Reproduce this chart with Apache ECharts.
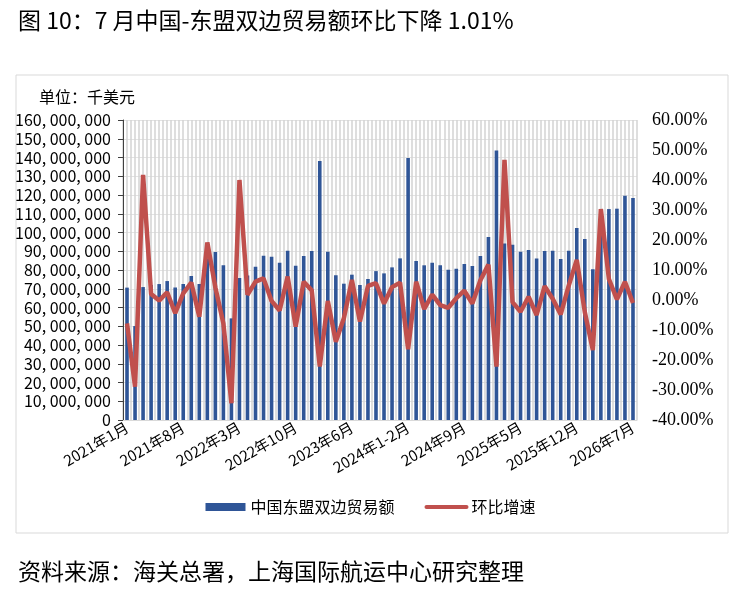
<!DOCTYPE html>
<html>
<head>
<meta charset="utf-8">
<script src="https://cdn.jsdelivr.net/npm/echarts@6/dist/echarts.min.js"></script>
<style>
html,body{margin:0;padding:0;background:#fff;}
#c{width:741px;height:589px;}
</style>
</head>
<body>
<div id="c"></div>
<script>
// categories (months; Jan-Feb combined in 2023-2025)
const categories = [
 '2021年1月','2021年2月','2021年3月','2021年4月','2021年5月','2021年6月','2021年7月','2021年8月','2021年9月','2021年10月','2021年11月','2021年12月',
 '2022年1月','2022年2月','2022年3月','2022年4月','2022年5月','2022年6月','2022年7月','2022年8月','2022年9月','2022年10月','2022年11月','2022年12月',
 '2023年1-2月','2023年3月','2023年4月','2023年5月','2023年6月','2023年7月','2023年8月','2023年9月','2023年10月','2023年11月','2023年12月',
 '2024年1-2月','2024年3月','2024年4月','2024年5月','2024年6月','2024年7月','2024年8月','2024年9月','2024年10月','2024年11月','2024年12月',
 '2025年1-2月','2025年3月','2025年4月','2025年5月','2025年6月','2025年7月','2025年8月','2025年9月','2025年10月','2025年11月','2025年12月',
 '2026年1月','2026年2月','2026年3月','2026年4月','2026年5月','2026年6月','2026年7月'
];
// 中国东盟双边贸易额 (千美元)
const tradeValue = [
 70600000,50100000,70900000,72000000,72500000,74100000,70700000,72500000,76800000,72500000,86200000,89600000,
 82500000,54200000,75700000,77100000,81800000,87600000,87100000,83900000,90300000,82300000,87500000,90100000,
 138100000,89800000,77200000,72700000,77500000,72000000,75200000,79400000,78200000,81400000,86200000,
 139700000,84800000,82500000,83900000,82500000,80200000,80700000,83200000,82100000,87500000,97600000,
 143800000,94200000,93500000,89800000,90700000,86200000,90100000,90300000,85900000,90300000,102400000,
 96500000,80400000,105000000,112500000,112700000,119600000,118400000
];
// 环比增速 (%)
const momGrowth = [
 -7.8,-28.9,41.7,2.0,-0.2,2.6,-4.4,2.2,5.8,-5.6,19.2,4.2,
 -7.8,-34.4,40.0,1.7,6.1,7.2,-0.3,-3.5,7.8,-8.9,6.1,3.2,
 -22.2,-0.3,-13.9,-6.1,6.7,-7.2,4.7,5.6,-1.2,4.3,5.8,
 -16.4,6.1,-3.0,1.8,-1.7,-2.6,0.6,3.1,-1.2,6.6,11.8,
 -22.2,46.7,-0.7,-3.9,1.1,-5.0,4.6,0.4,-4.8,4.8,13.4,
 -4.0,-16.7,30.3,7.0,0.2,6.1,-1.01
];
const leftAxis = {min:0, max:160000000, interval:10000000};
const rightAxis = {min:-40, max:60, interval:10};

const sans = "'Noto Sans CJK SC','Noto Sans',sans-serif";
const serif = "'Liberation Serif','DejaVu Serif',serif";
const chart = echarts.init(document.getElementById('c'));
function fmtNum(v){return String(v).replace(/\B(?=(\d{3})+(?!\d))/g, ', ');}

chart.setOption({
 animation:false,
 textStyle:{fontFamily:sans},
 grid:{left:123,right:104,top:120,bottom:169},
 graphic:[
  {type:'rect',shape:{x:16,y:75,width:712,height:458},style:{fill:'none',stroke:'#d9d9d9',lineWidth:1},silent:true},
  {type:'text',left:18,top:9,style:{text:'图 10：7 月中国-东盟双边贸易额环比下降 1.01%',font:"23px "+sans,fill:'#000'}},
  {type:'text',left:39,top:89,style:{text:'单位：千美元',font:"16px "+sans,fill:'#000'}},
  {type:'text',left:18,top:560,style:{text:'资料来源：海关总署，上海国际航运中心研究整理',font:"23px "+sans,fill:'#000'}}
 ],
 legend:{
  top:494,left:'center',itemWidth:40,itemHeight:8,itemGap:30,
  textStyle:{fontSize:16,color:'#000',fontFamily:sans},
  data:[{name:'中国东盟双边贸易额',icon:'rect'},
        {name:'环比增速',itemStyle:{opacity:0,borderWidth:0},lineStyle:{width:4,color:'#c0504d',cap:'round'}}]
 },
 xAxis:[
  {type:'category',data:categories,boundaryGap:true,
   axisLine:{show:true,lineStyle:{color:'#d9d9d9'}},
   axisTick:{show:false},
   axisLabel:{interval:6,rotate:30,fontSize:15,color:'#000',margin:6,fontFamily:sans},
   splitLine:{show:false}},
  {type:'value',min:0,max:128,interval:1,position:'top',
   axisLine:{show:false},axisTick:{show:false},axisLabel:{show:false},
   splitLine:{show:true,lineStyle:{color:'#d3d3d3',width:1.5}}}
 ],
 yAxis:[
  {type:'value',min:leftAxis.min,max:leftAxis.max,interval:leftAxis.interval,
   axisLine:{show:true,lineStyle:{color:'#404040'}},
   axisTick:{show:true,length:5,lineStyle:{color:'#404040'}},
   axisLabel:{fontSize:16,color:'#000',margin:12,fontFamily:sans,formatter:fmtNum},
   splitLine:{show:true,lineStyle:{color:'#e3e3e3',width:1}}},
  {type:'value',min:rightAxis.min,max:rightAxis.max,interval:rightAxis.interval,
   axisLine:{show:false},axisTick:{show:false},
   axisLabel:{fontSize:18,color:'#000',margin:15,fontFamily:serif,formatter:v=>v.toFixed(2)+'%'},
   splitLine:{show:false}}
 ],
 series:[
  {name:'中国东盟双边贸易额',type:'bar',data:tradeValue,xAxisIndex:0,yAxisIndex:0,barWidth:3.6,
   itemStyle:{color:'#2f5597'}},
  {name:'环比增速',type:'line',data:momGrowth,xAxisIndex:0,yAxisIndex:1,symbol:'none',
   lineStyle:{color:'#c0504d',width:4.5},itemStyle:{color:'#c0504d'}}
 ]
});
</script>
</body>
</html>
